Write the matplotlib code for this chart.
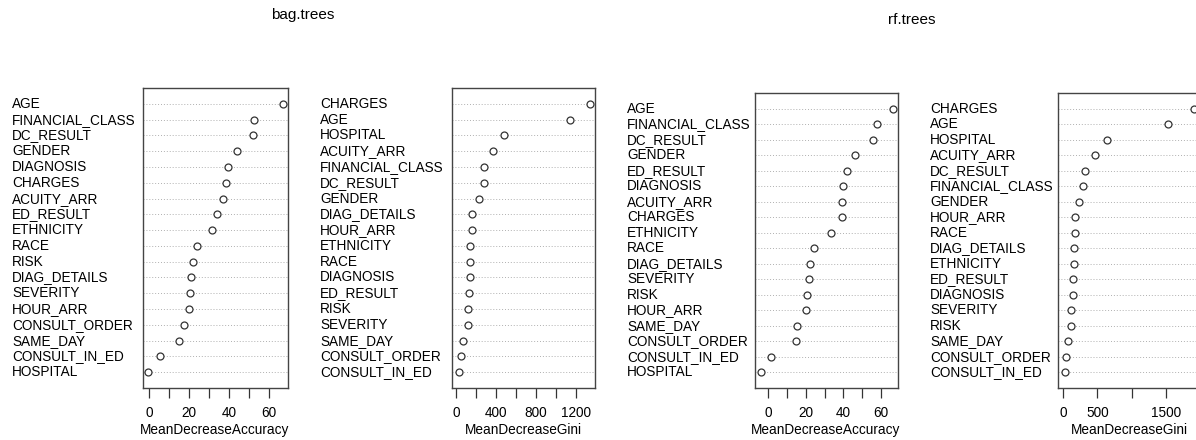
import matplotlib
matplotlib.use("Agg")
import matplotlib.pyplot as plt
import matplotlib.transforms as mtransforms

plt.rcParams['font.family'] = ['Liberation Sans', 'DejaVu Sans']

# bag.trees - MeanDecreaseAccuracy (top to bottom)
bag_acc_vars = ["AGE", "FINANCIAL_CLASS", "DC_RESULT", "GENDER", "DIAGNOSIS", "CHARGES",
                "ACUITY_ARR", "ED_RESULT", "ETHNICITY", "RACE", "RISK", "DIAG_DETAILS",
                "SEVERITY", "HOUR_ARR", "CONSULT_ORDER", "SAME_DAY", "CONSULT_IN_ED", "HOSPITAL"]
bag_acc_vals = [66.8, 52.7, 51.8, 43.8, 39.5, 38.7, 36.8, 34.0, 31.3, 24.2, 21.8, 21.2,
                20.3, 19.8, 17.7, 15.2, 5.3, -0.3]

# bag.trees - MeanDecreaseGini
bag_gini_vars = ["CHARGES", "AGE", "HOSPITAL", "ACUITY_ARR", "FINANCIAL_CLASS", "DC_RESULT",
                 "GENDER", "DIAG_DETAILS", "HOUR_ARR", "ETHNICITY", "RACE", "DIAGNOSIS",
                 "ED_RESULT", "RISK", "SEVERITY", "SAME_DAY", "CONSULT_ORDER", "CONSULT_IN_ED"]
bag_gini_vals = [1343, 1140, 483, 367, 273, 275, 227, 157, 157, 140, 140, 140,
                 123, 117, 117, 70, 47, 30]

# rf.trees - MeanDecreaseAccuracy
rf_acc_vars = ["AGE", "FINANCIAL_CLASS", "DC_RESULT", "GENDER", "ED_RESULT", "DIAGNOSIS",
               "ACUITY_ARR", "CHARGES", "ETHNICITY", "RACE", "DIAG_DETAILS", "SEVERITY",
               "RISK", "HOUR_ARR", "SAME_DAY", "CONSULT_ORDER", "CONSULT_IN_ED", "HOSPITAL"]
rf_acc_vals = [66.2, 57.7, 55.6, 46.2, 41.7, 39.6, 39.2, 39.2, 33.2, 24.3, 22.5, 21.7,
               20.8, 19.9, 15.1, 15.0, 1.6, -3.7]

# rf.trees - MeanDecreaseGini
rf_gini_vars = ["CHARGES", "AGE", "HOSPITAL", "ACUITY_ARR", "DC_RESULT", "FINANCIAL_CLASS",
                "GENDER", "HOUR_ARR", "RACE", "DIAG_DETAILS", "ETHNICITY", "ED_RESULT",
                "DIAGNOSIS", "SEVERITY", "RISK", "SAME_DAY", "CONSULT_ORDER", "CONSULT_IN_ED"]
rf_gini_vals = [1897, 1529, 639, 460, 314, 295, 227, 179, 179, 160, 160, 150,
                150, 116, 116, 77, 48, 24]

W, H = 1196, 440
fig = plt.figure(figsize=(W / 100, H / 100), dpi=100)

FS = 9.8
TXT = '#000000'


def panel(box, label_x, vars_, vals, xlim, ticks, shown, xlabel, xlabel_cx):
    x0, y0, x1, y1 = box  # pixel coords, y from top
    ax = fig.add_axes([x0 / W, 1 - y1 / H, (x1 - x0) / W, (y1 - y0) / H])
    n = len(vars_)
    ys = [n - i for i in range(n)]
    for y in ys:
        ax.axhline(y, color='#b0b0b0', lw=0.7, ls=(0, (1, 2)), zorder=1)
    ax.plot(vals, ys, 'o', mfc='white', mec='#333333', mew=0.9, ms=5, ls='none', zorder=3,
            clip_on=False)
    ax.set_xlim(*xlim)
    ax.set_ylim(0, n + 1)
    ax.set_yticks([])
    ax.set_xticks(ticks)
    ax.set_xticklabels([str(t) if t in shown else '' for t in ticks], fontsize=FS, color=TXT)
    ax.tick_params(axis='x', length=7, width=0.9, color='#333333', pad=6)
    for s in ax.spines.values():
        s.set_color('#444444')
        s.set_linewidth(1.0)
    tr = mtransforms.blended_transform_factory(fig.transFigure, ax.transData)
    for v, y in zip(vars_, ys):
        ax.text(label_x / W, y, v, transform=tr, ha='left', va='center',
                fontsize=FS, color=TXT, clip_on=False)
    fig.text(xlabel_cx / W, 1 - 430 / H, xlabel,
             ha='center', va='center', fontsize=FS, color=TXT)
    return ax


panel((143, 88, 288, 388), 12, bag_acc_vars, bag_acc_vals, (-3.0, 69.5),
      list(range(0, 70, 10)), [0, 20, 40, 60], "MeanDecreaseAccuracy", 215)
panel((452, 88, 595, 388), 320, bag_gini_vars, bag_gini_vals, (-43, 1390),
      list(range(0, 1400, 200)), [0, 400, 800, 1200], "MeanDecreaseGini", 523)
panel((755, 93, 898, 388), 627, rf_acc_vars, rf_acc_vals, (-6.9, 68.9),
      list(range(0, 70, 10)), [0, 20, 40, 60], "MeanDecreaseAccuracy", 826)
panel((1058, 93, 1200, 388), 930, rf_gini_vars, rf_gini_vals, (-73, 1990),
      [0, 500, 1000, 1500], [0, 500, 1500], "MeanDecreaseGini", 1129)

fig.text(303 / W, 1 - 15 / H, "bag.trees", ha='center', va='center', fontsize=11, color=TXT)
fig.text(912 / W, 1 - 20 / H, "rf.trees", ha='center', va='center', fontsize=11, color=TXT)

fig.savefig("out.png", dpi=100)
